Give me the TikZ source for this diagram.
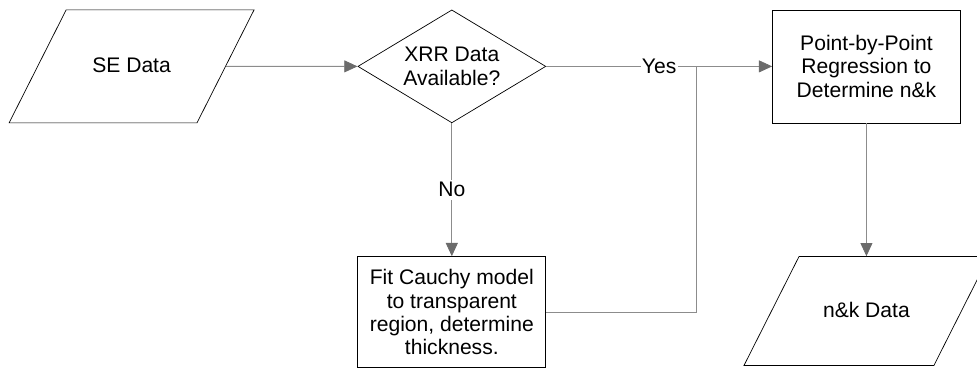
\documentclass[tikz,border=0pt]{standalone}
\usepackage{fontspec}
\setmainfont{Liberation Sans}
\usepackage{tikz}
\usetikzlibrary{positioning, arrows.meta, shapes.geometric, calc}

\definecolor{linegray}{gray}{0.55}
\definecolor{tipgray}{gray}{0.42}

\begin{document}
\begin{tikzpicture}[
      node distance = 3.325cm and 5.65cm,
      font          = \fontsize{15}{16.6}\selectfont,
      box/.style    = {rectangle, draw, line width=0.5pt,
                       minimum width=4.7cm, minimum height=2.825cm,
                       inner sep=2pt, align=center},
      iobox/.style  = {trapezium, draw, line width=0.5pt,
                       trapezium left angle=63.2, trapezium right angle=116.8,
                       trapezium stretches body=true,
                       text height=0.4cm, text depth=0.1cm, inner ysep=1.1625cm,
                       minimum width=6.125cm, align=center},
      choice/.style = {diamond, draw, line width=0.5pt, aspect=1.66,
                       minimum width=4.7cm, minimum height=2.825cm,
                       inner sep=0pt, align=center},
      arr/.style    = {-{Triangle[length=0.33cm, width=0.3cm, color=tipgray]},
                       linegray, line width=0.6pt},
      line/.style   = {linegray, line width=0.6pt},
      lbl/.style    = {fill=white, text=black, inner sep=1pt},
    ]
    \useasboundingbox (-3.29,1.66) rectangle (21.14,-7.56);

    \node[iobox]                          (se)  {SE Data};
    \node[choice, right=3.29cm of se]     (xrr) {XRR Data\\Available?};
    \node[box,    right=of xrr]           (pbp) {Point-by-Point\\Regression to\\Determine n\&k};
    \node[box,    below=of xrr, minimum height=2.78cm] (fit) {Fit Cauchy model\\to transparent\\region, determine\\thickness.};
    \node[iobox,  below=of pbp, inner ysep=1.1125cm] (nk) {n\&k Data};

    % merge point of the two branches
    \coordinate (join) at ($(xrr.east)!0.664!(pbp.west)$);

    % Flow arrows
    \draw[arr] (se)  -- (xrr);
    \draw[arr] (xrr) -- node[lbl]{Yes} (pbp);
    \draw[arr] (xrr) -- node[lbl, inner sep=2pt]{No} (fit);
    \draw[line] (fit.east) -| (join);
    \draw[arr] (pbp) -- (nk);
  \end{tikzpicture}
\end{document}
